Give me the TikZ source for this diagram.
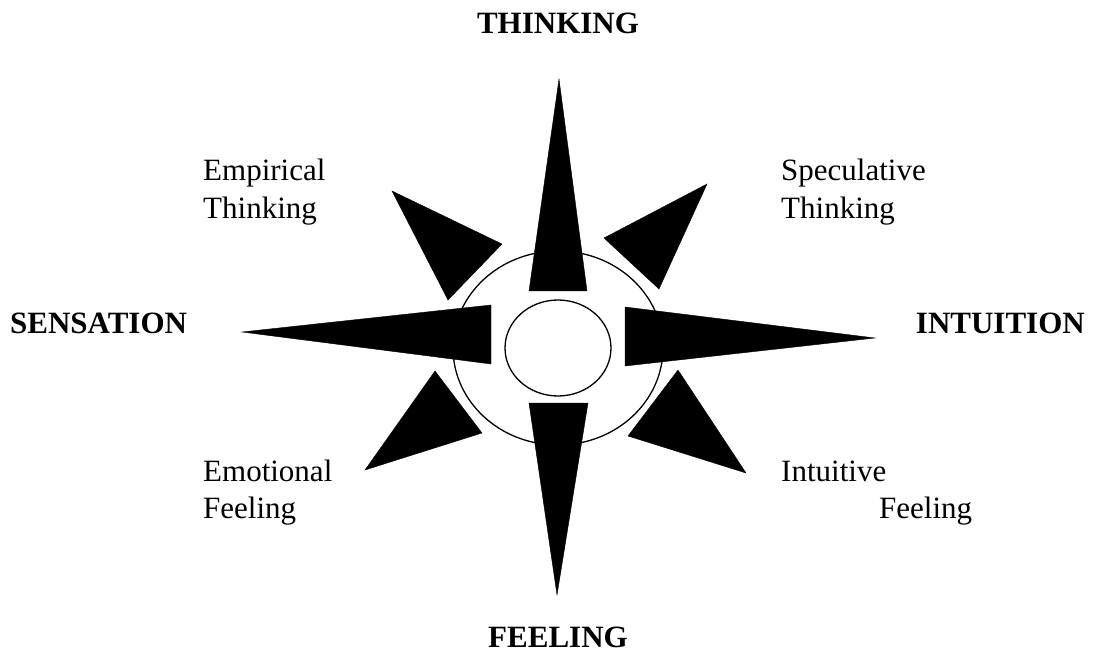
\documentclass[tikz,border=0pt]{standalone}
\usepackage{fontspec}
\setmainfont{Liberation Serif}
\usetikzlibrary{positioning}
\begin{document}
\begin{tikzpicture}[x=1pt,y=-1pt,line join=miter]
\path[fill=white,use as bounding box] (0,0) rectangle (1093,671);
\tikzset{ray/.style={fill=black,draw=black,line width=0.4pt},ring/.style={draw=black,line width=1.3pt},lbl/.style={font=\fontsize{31}{38}\selectfont,inner sep=0pt},pole/.style={font=\fontsize{31}{38}\selectfont\bfseries,inner sep=0pt}}
% rings round the centre
\draw[ring] (558,348) ellipse (105 and 97); \draw[ring,fill=white] (558,348) ellipse (53 and 48);
% four long rays
\path[ray] (559,79) -- (587,291) -- (529,291) -- cycle; \path[ray] (557,595) -- (529,403) -- (588,403) -- cycle;
\path[ray] (242,332) -- (491,305) -- (491,364) -- cycle; \path[ray] (875,338) -- (625,307) -- (625,366) -- cycle;
% four short rays
\path[ray] (392,191) -- (502,244) -- (448,300) -- cycle; \path[ray] (707,184) -- (604,238) -- (659,289) -- cycle;
\path[ray] (365,470) -- (435,371) -- (482,433) -- cycle; \path[ray] (746,473) -- (678,370) -- (628,436) -- cycle;
% labels
\node[pole,anchor=base] (thinking) at (558,34) {THINKING}; \node[pole,anchor=base] (feeling) at (558,647) {FEELING};
\node[pole,anchor=base west] (sensation) at (10,334) {SENSATION}; \node[pole,anchor=base east] (intuition) at (1085,334) {INTUITION};
\node[lbl,anchor=base west] (empA) at (203,181) {Empirical}; \node[lbl,anchor=base west] (empB) at (203,219) {Thinking};
\node[lbl,anchor=base west] (specA) at (781,181) {Speculative}; \node[lbl,anchor=base west] (specB) at (781,219) {Thinking};
\node[lbl,anchor=base west] (emoA) at (203,481) {Emotional}; \node[lbl,anchor=base west] (emoB) at (203,518) {Feeling};
\node[lbl,anchor=base west] (intA) at (781,481) {Intuitive}; \node[lbl,anchor=base west] (intB) at (879,518) {Feeling};
\end{tikzpicture}
\end{document}
